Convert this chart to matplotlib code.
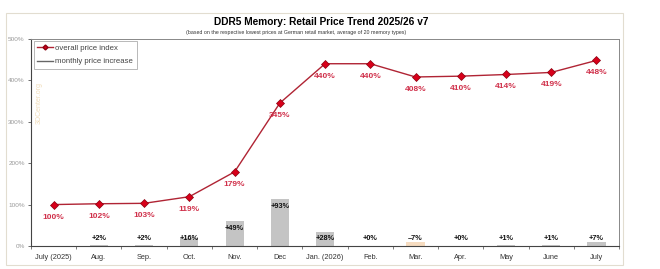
#!/usr/bin/env python3


# +
# import(s)
# -
import numpy as np
import matplotlib as mpl
import matplotlib.pyplot as plt
from matplotlib.lines import Line2D
from matplotlib.patches import Rectangle


# +
# initialize
# -
try:
    mpl.use('Agg')
except:
    pass

plt.rcParams['font.family'] = ['Liberation Sans', 'DejaVu Sans']


# +
# data
# -
months = ['July (2025)', 'Aug.', 'Sep.', 'Oct.', 'Nov.', 'Dec', 'Jan. (2026)',
          'Feb.', 'Mar.', 'Apr.', 'May', 'June', 'July']
price_index = [100, 102, 103, 119, 179, 345, 440, 440, 408, 410, 414, 419, 448]
monthly_change = [None, 2, 2, 16, 49, 93, 28, 0, -7, 0, 1, 1, 7]
y_ticks = [0, 100, 200, 300, 400, 500]

TITLE = 'DDR5 Memory: Retail Price Trend 2025/26 v7'
SUBTITLE = '(based on the respective lowest prices at German retail market, average of 20 memory types)'

RED_LINE = '#b02434'
RED_MARK = '#d8001a'
RED_TEXT = '#d0304a'
BAR_GRAY = '#c4c4c4'
BAR_NEG = '#f6dcc0'


# +
# function: ddr5_price_trend()
# -
def ddr5_price_trend() -> None:

    fig = plt.figure(figsize=(6.6, 2.69), dpi=100)
    fig.patch.set_facecolor('white')

    # outer frame
    fig.patches.append(Rectangle((0.009, 0.015), 0.935, 0.937, transform=fig.transFigure,
                                 fill=False, edgecolor='#e2ddd0', linewidth=0.8))

    # titles
    fig.text(0.487, 0.918, TITLE, ha='center', va='center', fontsize=7.3, fontweight='bold')
    fig.text(0.448, 0.878, SUBTITLE, ha='center', va='center', fontsize=3.8, color='#333333')

    ax = fig.add_axes([0.047, 0.0855, 0.891, 0.77])
    ax2 = ax.twinx()
    ax.set_zorder(ax2.get_zorder() + 1)
    ax.patch.set_visible(False)

    x = np.arange(len(months))

    # bars (secondary scale)
    for _i, _v in enumerate(monthly_change):
        if _v is None:
            continue
        _c = BAR_NEG if _v < 0 else BAR_GRAY
        ax2.bar(x[_i], abs(_v), width=0.4, color=_c, zorder=1)
        _ly = max(15.6, abs(_v) - 15.0)
        _txt = f"{_v:+d}%" if _v != 0 else "+0%"
        if _v < 0:
            _txt = f"\u2013{abs(_v)}%"
            _ly -= 1.5
        ax2.text(x[_i], _ly, _txt, ha='center', va='center', fontsize=5.3,
                 fontweight='bold', color='#111111', zorder=3)
    ax2.set_ylim(0, 410)
    ax2.set_yticks([])
    for _s in ax2.spines.values():
        _s.set_visible(False)

    # price index line
    ax.plot(x, price_index, color=RED_LINE, linewidth=1.0, zorder=3)
    ax.plot(x, price_index, linestyle='none', marker='D', markersize=4.5,
            markerfacecolor=RED_MARK, markeredgecolor='#8a0010', markeredgewidth=0.5, zorder=4)
    for _i, _v in enumerate(price_index):
        ax.text(x[_i], _v - 30, f"{_v}%", ha='center', va='center', fontsize=6,
                fontweight='bold', color=RED_TEXT, zorder=5)

    # watermark
    ax.text(0.014, 0.69, '3DCenter.org', transform=ax.transAxes, rotation=90,
            ha='center', va='center', fontsize=5, color='#f0dcb8')

    # axes
    ax.set_xlim(-0.5, len(months) - 0.5)
    ax.set_ylim(0, 500)
    ax.set_yticks(y_ticks)
    ax.set_yticklabels([f"{_t}%" for _t in y_ticks], fontsize=4.6, color='#999999')
    ax.set_xticks(x)
    ax.set_xticklabels(months, fontsize=5.3, color='#333333')
    ax.set_xticks(np.arange(len(months) + 1) - 0.5, minor=True)
    ax.tick_params(axis='x', which='major', length=0, pad=6)
    ax.tick_params(axis='x', which='minor', length=2.5, width=0.6, color='#666666')
    ax.tick_params(axis='y', length=2.5, width=0.6, color='#555555', pad=2)
    for _k in ['top', 'right']:
        ax.spines[_k].set_color('#888888')
        ax.spines[_k].set_linewidth(0.7)
    for _k in ['left', 'bottom']:
        ax.spines[_k].set_color('#444444')
        ax.spines[_k].set_linewidth(0.8)

    # legend
    handles = [Line2D([0], [0], color=RED_LINE, linewidth=1.0, marker='D', markersize=2.5,
                      markerfacecolor=RED_MARK, markeredgecolor='#8a0010'),
               Line2D([0], [0], color='#666666', linewidth=1.0)]
    leg = ax.legend(handles, ['overall price index', 'monthly price increase'],
                    loc='upper left', bbox_to_anchor=(0.002, 0.997), fontsize=5.6,
                    frameon=True, fancybox=False, handlelength=2.0, handletextpad=0.3,
                    borderpad=0.45, labelspacing=0.75, borderaxespad=0.2)
    leg.get_frame().set_edgecolor('#999999')
    leg.get_frame().set_linewidth(0.6)
    for _t in leg.get_texts():
        _t.set_color('#444444')

    # output(s)
    plt.savefig('out.png', dpi=100)


# +
# main()
# -
if __name__ == '__main__':
    ddr5_price_trend()
